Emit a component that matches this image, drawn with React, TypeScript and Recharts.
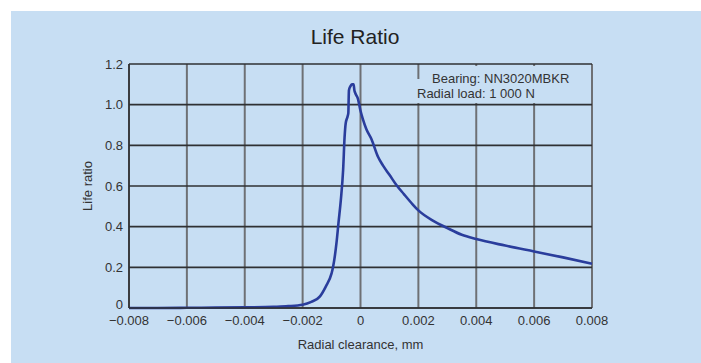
import { LineChart, Line, XAxis, YAxis, CartesianGrid } from 'recharts';

// radial clearance, mm
const clearance = [
  -0.008, -0.007, -0.006, -0.005, -0.004, -0.003, -0.0025, -0.002, -0.0017, -0.0014,
  -0.0012, -0.001, -0.00095, -0.00083, -0.00076, -0.00068, -0.0006, -0.00055, -0.00051,
  -0.00045, -0.00042, -0.00041, -0.0004, -0.00035, -0.0003, -0.00024, -0.00021, -0.00019,
  -0.00009, 0, 0.00009, 0.0002, 0.00038, 0.0006, 0.00078, 0.001, 0.00124, 0.0015, 0.0018,
  0.002, 0.0025, 0.003, 0.0035, 0.004, 0.005, 0.006, 0.007, 0.008,
];

// life ratio
const lifeRatio = [
  0.0, 0.0, 0.001, 0.002, 0.003, 0.006, 0.009, 0.016, 0.03, 0.057,
  0.105, 0.17, 0.2, 0.32, 0.42, 0.53, 0.68, 0.84, 0.91,
  0.94, 0.96, 1.02, 1.07, 1.09, 1.1, 1.1, 1.07, 1.06,
  1.03, 0.97, 0.925, 0.88, 0.83, 0.745, 0.7, 0.655, 0.605, 0.56, 0.51,
  0.48, 0.43, 0.393, 0.36, 0.339, 0.307, 0.278, 0.249, 0.218,
];

const xTicks = [-0.008, -0.006, -0.004, -0.002, 0, 0.002, 0.004, 0.006, 0.008];
const yTicks = [0, 0.2, 0.4, 0.6, 0.8, 1.0, 1.2];

const data = clearance.map((x, i) => ({ x, y: lifeRatio[i] }));

const BG = '#c7def3';
const FONT = '"Liberation Sans", Arial, Helvetica, sans-serif';
const TEXT = '#333333';

const fmtX = (v: number) => {
  if (v === 0) return '0';
  const s = Math.abs(v).toFixed(3);
  return v < 0 ? `\u2212${s}` : s;
};
const fmtY = (v: number) => (v === 0 ? '0' : v.toFixed(1));

// y tick; the zero label sits a little above the axis so it clears the x labels
const YTick = (props: any) => {
  const { x, y, payload } = props;
  const shift = payload.value === 0 ? -4 : 0;
  return (
    <text
      x={x}
      y={y + shift}
      dy="0.355em"
      textAnchor="end"
      fill={TEXT}
      fontSize={13}
      fontFamily={FONT}
    >
      {fmtY(payload.value)}
    </text>
  );
};

export default function App() {
  return (
    <div
      style={{
        position: 'absolute',
        left: 11,
        top: 11,
        width: 690,
        height: 352,
        background: BG,
        fontFamily: FONT,
      }}
    >
      <LineChart
        width={690}
        height={352}
        data={data}
        margin={{ top: 53, right: 109, left: 0, bottom: 0 }}
      >
        <CartesianGrid horizontal={false} stroke="#6e7074" strokeWidth={2} />
        <CartesianGrid vertical={false} stroke="#2f3033" strokeWidth={1.6} />
        <XAxis
          dataKey="x"
          type="number"
          domain={[-0.008, 0.008]}
          ticks={xTicks}
          tickFormatter={fmtX}
          tickLine={false}
          axisLine={{ stroke: '#2f3033', strokeWidth: 1.6 }}
          height={55}
          tick={{ fill: TEXT, fontSize: 13, fontFamily: FONT }}
          label={{
            value: 'Radial clearance, mm',
            position: 'insideBottom',
            offset: 14,
            style: { fill: TEXT, fontSize: 13, fontFamily: FONT },
          }}
        />
        <YAxis
          type="number"
          domain={[0, 1.2]}
          ticks={yTicks}
          tickLine={false}
          tickMargin={0}
          axisLine={{ stroke: '#2f3033', strokeWidth: 1.6 }}
          width={118}
          tick={<YTick />}
          label={{
            value: 'Life ratio',
            angle: -90,
            position: 'insideLeft',
            offset: 76,
            style: { fill: TEXT, fontSize: 13, fontFamily: FONT, textAnchor: 'middle' },
          }}
        />
        <Line
          type="monotoneX"
          dataKey="y"
          stroke="#2a3d9c"
          strokeWidth={2.6}
          dot={false}
          isAnimationActive={false}
        />
      </LineChart>

      <div
        style={{
          position: 'absolute',
          left: 244,
          top: 14,
          width: 200,
          textAlign: 'center',
          fontSize: 21,
          lineHeight: '24px',
          color: '#222',
        }}
      >
        Life Ratio
      </div>

      <div style={{ position: 'absolute', left: 410, top: 55, width: 170, height: 37, background: BG }} />
      <div style={{ position: 'absolute', left: 401, top: 68, width: 179, height: 24, background: BG }} />
      <div
        style={{
          position: 'absolute',
          left: 421,
          top: 60,
          fontSize: 13,
          lineHeight: '16px',
          color: TEXT,
          whiteSpace: 'nowrap',
        }}
      >
        Bearing: NN3020MBKR
      </div>
      <div
        style={{
          position: 'absolute',
          left: 406,
          top: 75,
          fontSize: 13,
          lineHeight: '16px',
          color: TEXT,
          whiteSpace: 'nowrap',
        }}
      >
        Radial load: 1 000 N
      </div>
    </div>
  );
}
